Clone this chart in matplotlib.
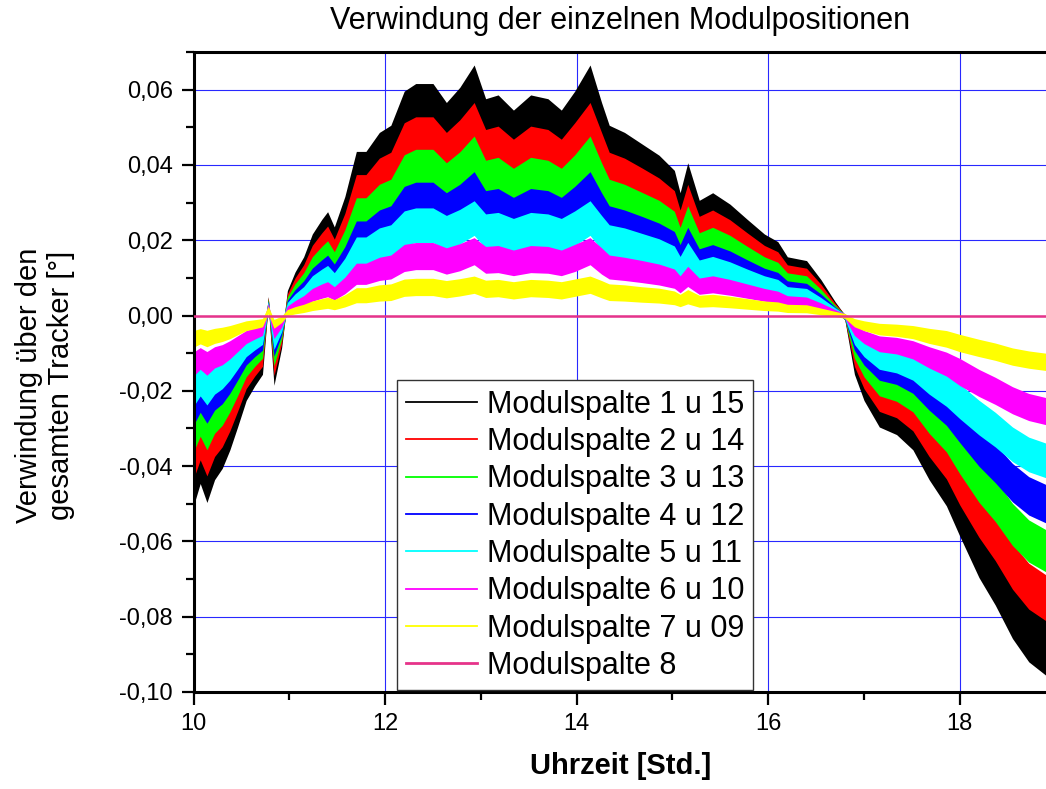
import numpy as np
import matplotlib
matplotlib.use("Agg")
import matplotlib.pyplot as plt
from matplotlib.lines import Line2D
from matplotlib.ticker import MultipleLocator, FuncFormatter

plt.rcParams['font.family'] = ['Liberation Sans', 'DejaVu Sans']

# Uhrzeit [h]
zeit = [10.00, 10.07, 10.14, 10.22, 10.30, 10.38, 10.46, 10.55, 10.64, 10.72,
        10.78, 10.84, 10.92, 10.98, 11.06, 11.15, 11.24, 11.34, 11.40, 11.47,
        11.58, 11.70, 11.80, 11.94, 12.06, 12.20, 12.32, 12.50, 12.64, 12.78,
        12.93, 13.05, 13.18, 13.34, 13.52, 13.70, 13.84, 13.98, 14.14, 14.26,
        14.34, 14.50, 14.68, 14.86, 15.02, 15.08, 15.16, 15.28, 15.42, 15.60,
        15.78, 15.96, 16.10, 16.20, 16.40, 16.55, 16.70, 16.80, 16.90, 17.00,
        17.16, 17.34, 17.51, 17.68, 17.86, 18.00, 18.20, 18.37, 18.55, 18.72,
        18.90]

# Verwindung je Modulspalte [°]
spalte_1_15 = [-0.0446, -0.0393, -0.0438, -0.0384, -0.0357, -0.0313, -0.0259, -0.0196, -0.0161, -0.0134,
               0.0040, -0.0160, -0.0071, 0.0054, 0.0098, 0.0134, 0.0188, 0.0223, 0.0241, 0.0205,
               0.0277, 0.0384, 0.0384, 0.0429, 0.0446, 0.0527, 0.0545, 0.0545, 0.0500, 0.0536,
               0.0589, 0.0509, 0.0518, 0.0482, 0.0518, 0.0509, 0.0482, 0.0527, 0.0589, 0.0500,
               0.0446, 0.0429, 0.0402, 0.0375, 0.0339, 0.0286, 0.0357, 0.0268, 0.0286, 0.0259,
               0.0223, 0.0188, 0.0170, 0.0134, 0.0125, 0.0080, 0.0027, -0.0005, -0.0134, -0.0196,
               -0.0259, -0.0277, -0.0313, -0.0384, -0.0446, -0.0518, -0.0616, -0.0688, -0.0777, -0.0839,
               -0.0875]
spalte_2_14 = [-0.0382, -0.0337, -0.0375, -0.0329, -0.0306, -0.0268, -0.0222, -0.0168, -0.0138, -0.0115,
               0.0038, -0.0137, -0.0061, 0.0046, 0.0084, 0.0115, 0.0161, 0.0191, 0.0207, 0.0176,
               0.0237, 0.0329, 0.0329, 0.0368, 0.0382, 0.0452, 0.0467, 0.0467, 0.0429, 0.0459,
               0.0505, 0.0436, 0.0444, 0.0413, 0.0444, 0.0436, 0.0413, 0.0452, 0.0505, 0.0429,
               0.0382, 0.0368, 0.0345, 0.0321, 0.0291, 0.0245, 0.0306, 0.0230, 0.0245, 0.0222,
               0.0191, 0.0161, 0.0146, 0.0115, 0.0107, 0.0069, 0.0023, -0.0004, -0.0115, -0.0168,
               -0.0222, -0.0237, -0.0268, -0.0329, -0.0382, -0.0444, -0.0528, -0.0590, -0.0666, -0.0719,
               -0.0750]
spalte_3_13 = [-0.0318, -0.0281, -0.0313, -0.0274, -0.0255, -0.0223, -0.0185, -0.0140, -0.0115, -0.0096,
               0.0035, -0.0114, -0.0051, 0.0039, 0.0070, 0.0096, 0.0134, 0.0159, 0.0172, 0.0146,
               0.0198, 0.0274, 0.0274, 0.0306, 0.0318, 0.0376, 0.0389, 0.0389, 0.0357, 0.0383,
               0.0421, 0.0363, 0.0370, 0.0344, 0.0370, 0.0363, 0.0344, 0.0376, 0.0421, 0.0357,
               0.0318, 0.0306, 0.0287, 0.0268, 0.0242, 0.0204, 0.0255, 0.0191, 0.0204, 0.0185,
               0.0159, 0.0134, 0.0121, 0.0096, 0.0089, 0.0057, 0.0019, -0.0004, -0.0096, -0.0140,
               -0.0185, -0.0198, -0.0223, -0.0274, -0.0318, -0.0370, -0.0440, -0.0491, -0.0555, -0.0599,
               -0.0625]
spalte_4_12 = [-0.0255, -0.0224, -0.0250, -0.0219, -0.0204, -0.0179, -0.0148, -0.0112, -0.0092, -0.0077,
               0.0030, -0.0091, -0.0041, 0.0031, 0.0056, 0.0077, 0.0107, 0.0127, 0.0138, 0.0117,
               0.0158, 0.0219, 0.0219, 0.0245, 0.0255, 0.0301, 0.0311, 0.0311, 0.0286, 0.0306,
               0.0336, 0.0291, 0.0296, 0.0275, 0.0296, 0.0291, 0.0275, 0.0301, 0.0336, 0.0286,
               0.0255, 0.0245, 0.0230, 0.0214, 0.0194, 0.0163, 0.0204, 0.0153, 0.0163, 0.0148,
               0.0127, 0.0107, 0.0097, 0.0077, 0.0071, 0.0046, 0.0015, -0.0003, -0.0077, -0.0112,
               -0.0148, -0.0158, -0.0179, -0.0219, -0.0255, -0.0296, -0.0352, -0.0393, -0.0444, -0.0479,
               -0.0500]
spalte_5_11 = [-0.0196, -0.0173, -0.0193, -0.0169, -0.0157, -0.0138, -0.0114, -0.0086, -0.0071, -0.0059,
               0.0026, -0.0070, -0.0031, 0.0024, 0.0043, 0.0059, 0.0083, 0.0098, 0.0106, 0.0090,
               0.0122, 0.0169, 0.0169, 0.0189, 0.0196, 0.0232, 0.0240, 0.0240, 0.0220, 0.0236,
               0.0259, 0.0224, 0.0228, 0.0212, 0.0228, 0.0224, 0.0212, 0.0232, 0.0259, 0.0220,
               0.0196, 0.0189, 0.0177, 0.0165, 0.0149, 0.0126, 0.0157, 0.0118, 0.0126, 0.0114,
               0.0098, 0.0083, 0.0075, 0.0059, 0.0055, 0.0035, 0.0012, -0.0002, -0.0059, -0.0086,
               -0.0114, -0.0122, -0.0138, -0.0169, -0.0196, -0.0228, -0.0271, -0.0303, -0.0342, -0.0369,
               -0.0385]
spalte_6_10 = [-0.0129, -0.0114, -0.0127, -0.0111, -0.0104, -0.0091, -0.0075, -0.0057, -0.0047, -0.0039,
               0.0022, -0.0046, -0.0021, 0.0016, 0.0028, 0.0039, 0.0055, 0.0065, 0.0070, 0.0059,
               0.0080, 0.0111, 0.0111, 0.0124, 0.0129, 0.0153, 0.0158, 0.0158, 0.0145, 0.0155,
               0.0171, 0.0148, 0.0150, 0.0140, 0.0150, 0.0148, 0.0140, 0.0153, 0.0171, 0.0145,
               0.0129, 0.0124, 0.0117, 0.0109, 0.0098, 0.0083, 0.0104, 0.0078, 0.0083, 0.0075,
               0.0065, 0.0055, 0.0049, 0.0039, 0.0036, 0.0023, 0.0008, -0.0001, -0.0039, -0.0057,
               -0.0075, -0.0080, -0.0091, -0.0111, -0.0129, -0.0150, -0.0179, -0.0200, -0.0225, -0.0243,
               -0.0254]
spalte_7_09 = [-0.0062, -0.0055, -0.0061, -0.0054, -0.0050, -0.0044, -0.0036, -0.0027, -0.0023, -0.0019,
               0.0015, -0.0022, -0.0010, 0.0008, 0.0014, 0.0019, 0.0026, 0.0031, 0.0034, 0.0029,
               0.0039, 0.0054, 0.0054, 0.0060, 0.0062, 0.0074, 0.0076, 0.0076, 0.0070, 0.0075,
               0.0082, 0.0071, 0.0073, 0.0067, 0.0073, 0.0071, 0.0067, 0.0074, 0.0082, 0.0070,
               0.0062, 0.0060, 0.0056, 0.0053, 0.0047, 0.0040, 0.0050, 0.0038, 0.0040, 0.0036,
               0.0031, 0.0026, 0.0024, 0.0019, 0.0018, 0.0011, 0.0004, -0.0001, -0.0019, -0.0027,
               -0.0036, -0.0039, -0.0044, -0.0054, -0.0062, -0.0073, -0.0086, -0.0096, -0.0109, -0.0117,
               -0.0123]
spalte_8 = [0.0] * len(zeit)  # Referenzspalte, Verwindung 0

reihen = [spalte_1_15, spalte_2_14, spalte_3_13, spalte_4_12,
          spalte_5_11, spalte_6_10, spalte_7_09]
namen = ["Modulspalte 1 u 15", "Modulspalte 2 u 14", "Modulspalte 3 u 13",
         "Modulspalte 4 u 12", "Modulspalte 5 u 11", "Modulspalte 6 u 10",
         "Modulspalte 7 u 09", "Modulspalte 8"]
farben = ["#000000", "#FF0000", "#00FF00", "#0000FF",
          "#00FFFF", "#FF00FF", "#FFFF00", "#E6338A"]
# Streubreite des Messrauschens je Spalte: relativer Anteil und Obergrenze
streuung = [0.12, 0.12, 0.12, 0.12, 0.20, 0.20, 0.26]
streuung_max = [0.0075, 0.0055, 0.0050, 0.0045, 0.0040, 0.0030, 0.0017]

fig = plt.figure(figsize=(10.46, 7.89), dpi=100)
ax = fig.add_axes([0.185, 0.123, 0.815, 0.811])

for werte, farbe, s, smax in zip(reihen, farben, streuung, streuung_max):
    w = np.array(werte)
    band = np.minimum(s * np.abs(w), smax) + 0.0006
    ax.fill_between(zeit, w - band, w + band, color=farbe, lw=0, zorder=2)
ax.plot(zeit, spalte_8, color=farben[7], lw=1.8, zorder=3)


def komma(v, pos):
    if abs(v) < 1e-9:
        v = 0.0
    return f"{v:.2f}".replace(".", ",")


ax.set_xlim(10, 18.9)
ax.set_ylim(-0.10, 0.07)
ax.xaxis.set_major_locator(MultipleLocator(2))
ax.xaxis.set_minor_locator(MultipleLocator(1))
ax.yaxis.set_major_locator(MultipleLocator(0.02))
ax.yaxis.set_minor_locator(MultipleLocator(0.01))
ax.yaxis.set_major_formatter(FuncFormatter(komma))
ax.xaxis.set_major_formatter(FuncFormatter(lambda v, p: f"{v:.0f}"))

ax.tick_params(which="major", direction="out", length=9, width=1.6, labelsize=17, pad=6)
ax.tick_params(which="minor", direction="out", length=5.5, width=1.6)
ax.grid(True, which="major", color="#2828FF", lw=0.8)
ax.set_axisbelow(True)

for side in ["left", "bottom", "top"]:
    ax.spines[side].set_linewidth(2.2)
ax.spines["right"].set_visible(False)

handles = [Line2D([], [], color=f, lw=1.3) for f in farben[:7]]
handles.append(Line2D([], [], color=farben[7], lw=2.0))
leg = ax.legend(handles, namen, loc="lower left", bbox_to_anchor=(0.239, 0.003),
                fontsize=22, frameon=True, fancybox=False, framealpha=1,
                edgecolor="#333333", handlelength=2.3, handletextpad=0.33,
                labelspacing=0.24, borderpad=0.3, borderaxespad=0)
leg.get_frame().set_linewidth(1.0)
leg.set_zorder(5)

fig.text(0.593, 0.973, "Verwindung der einzelnen Modulpositionen",
         ha="center", va="center", fontsize=22)
fig.text(0.593, 0.029, "Uhrzeit [Std.]", ha="center", va="center",
         fontsize=21, fontweight="bold")
fig.text(0.043, 0.512, "Verwindung über den\ngesamten Tracker [°]", rotation=90,
         ha="center", va="center", multialignment="center", fontsize=21)

fig.savefig("out.png", dpi=100)
